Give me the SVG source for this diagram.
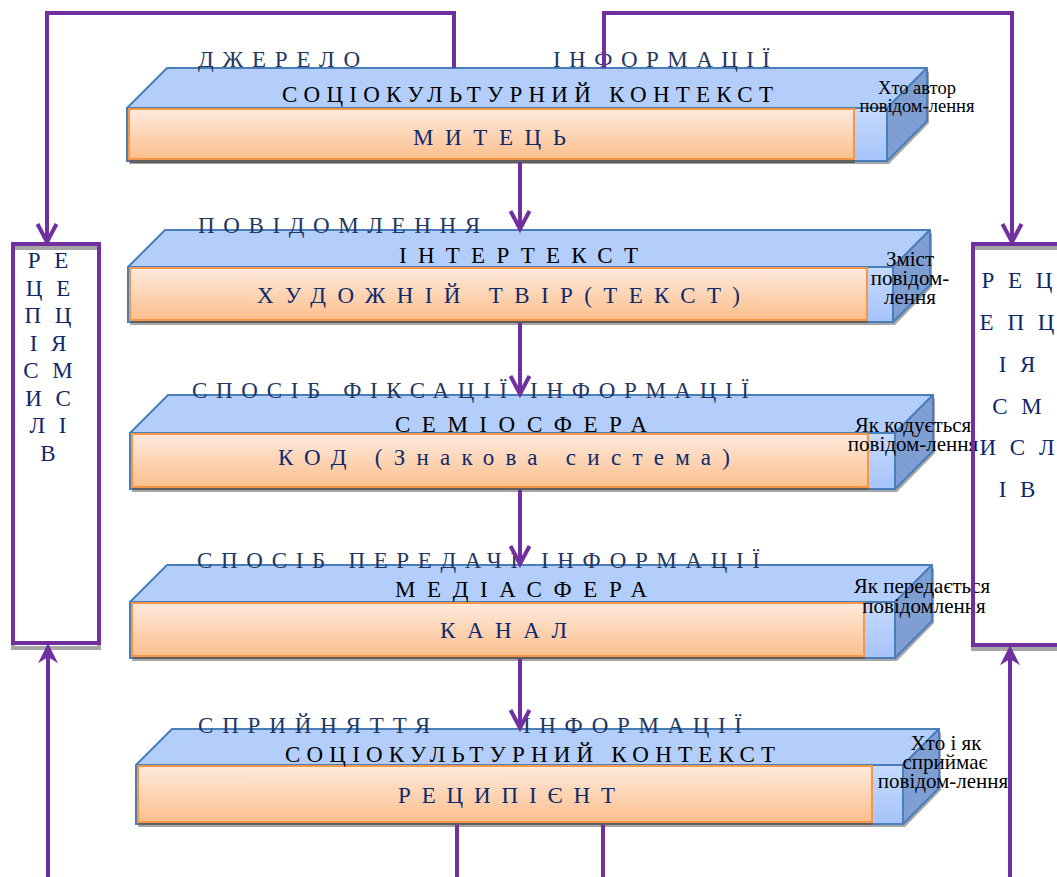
<svg xmlns="http://www.w3.org/2000/svg" width="1057" height="877" viewBox="0 0 1057 877" font-family="'Liberation Serif','Times New Roman',serif">
<style>
text{font-family:"Liberation Serif","Times New Roman",serif}
.hd{font-size:23px;fill:#1f3864}
.md{font-size:23px;fill:#000}
.lb{font-size:23px;fill:#0f2a6b}
.nt{font-size:21px;fill:#000;text-anchor:middle}
.nt1{font-size:18.5px}
.bx{font-size:23px;fill:#10286a;text-anchor:middle;word-spacing:8px}
.top{fill:#b3cefb;stroke:#4a7ebb;stroke-width:2;stroke-linejoin:round}
.front{fill:url(#gFront);stroke:#4a7ebb;stroke-width:2}
.side{fill:#7f9ed2;stroke:#4a7ebb;stroke-width:2;stroke-linejoin:round}
.shd{fill:#a6a6a6}
.oshd{fill:#5f5f5f}
.org{fill:url(#gOrg);stroke:#f79646;stroke-width:2}
.box{fill:none;stroke:#7030a0;stroke-width:4}
.boxs{fill:none;stroke:#a6a6a6;stroke-width:4}
.cn{fill:none;stroke:#7030a0;stroke-width:4}
</style>
<defs>
<linearGradient id="gFront" x1="0" y1="0" x2="0" y2="1"><stop offset="0" stop-color="#c6dafd"/><stop offset="1" stop-color="#a6c4fa"/></linearGradient>
<linearGradient id="gOrg" x1="0" y1="0" x2="0" y2="1"><stop offset="0" stop-color="#feeadd"/><stop offset="1" stop-color="#fcbf8d"/></linearGradient>
<marker id="vh" markerUnits="userSpaceOnUse" markerWidth="30" markerHeight="30" viewBox="-25 -15 30 30" refX="0" refY="0" orient="auto" overflow="visible"><path d="M-19,-9.5 L-1,0 L-19,9.5" fill="none" stroke="#7030a0" stroke-width="4"/></marker>
<marker id="sh" markerUnits="userSpaceOnUse" markerWidth="30" markerHeight="30" viewBox="-10 -10 24 20" refX="0" refY="0" orient="auto" overflow="visible"><path d="M11,0 L-5,-8 L0,0 L-5,8 Z" fill="#7030a0"/></marker>
</defs>

<g id="block1">
<path class="shd" d="M129,111 H889 L929,71 V123 L889,164 H129 Z"/>
<path class="top" d="M127,108 L167,68 H927 L887,108 Z"/>
<path class="side" d="M887,108 L927,68 V121 L887,161 Z"/>
<rect class="front" x="127" y="108" width="760" height="53"/>
<rect class="oshd" x="130" y="112" width="725" height="51"/>
<rect class="org" x="129" y="109" width="725" height="50"/>
<text class="hd" x="198" y="67" textLength="162" lengthAdjust="spacing">ДЖЕРЕЛО</text>
<text class="hd" x="553" y="67" textLength="217" lengthAdjust="spacing">ІНФОРМАЦІЇ</text>
<text class="md" x="282" y="102" textLength="491" lengthAdjust="spacing">СОЦІОКУЛЬТУРНИЙ КОНТЕКСТ</text>
<text class="lb" x="413" y="145" textLength="153" lengthAdjust="spacing">МИТЕЦЬ</text>
<text class="nt nt1" x="917" y="94">Хто автор</text>
<text class="nt nt1" x="917" y="112">повідом-лення</text>
</g>

<g id="block2">
<path class="shd" d="M130,270 H895 L932,233 V287 L895,325 H130 Z"/>
<path class="top" d="M128,267 L165,230 H930 L893,267 Z"/>
<path class="side" d="M893,267 L930,230 V285 L893,322 Z"/>
<rect class="front" x="128" y="267" width="765" height="55"/>
<rect class="oshd" x="131" y="271" width="737" height="52"/>
<rect class="org" x="130" y="268" width="737" height="52"/>
<text class="hd" x="198" y="233" textLength="282" lengthAdjust="spacing">ПОВІДОМЛЕННЯ</text>
<text class="md" x="399" y="263" textLength="239" lengthAdjust="spacing">ІНТЕРТЕКСТ</text>
<text class="lb" x="257" y="303" textLength="483" lengthAdjust="spacing">ХУДОЖНІЙ ТВІР(ТЕКСТ)</text>
<text class="nt" x="910" y="266">Зміст</text>
<text class="nt" x="910" y="285">повідом-</text>
<text class="nt" x="910" y="304">лення</text>
</g>

<g id="block3">
<path class="shd" d="M132,436 H897 L935,398 V453 L897,492 H132 Z"/>
<path class="top" d="M130,433 L168,395 H933 L895,433 Z"/>
<path class="side" d="M895,433 L933,395 V451 L895,489 Z"/>
<rect class="front" x="130" y="433" width="765" height="56"/>
<rect class="oshd" x="133" y="437" width="736" height="53"/>
<rect class="org" x="132" y="434" width="736" height="53"/>
<text class="hd" x="192" y="398" textLength="557" lengthAdjust="spacing">СПОСІБ ФІКСАЦІЇ ІНФОРМАЦІЇ</text>
<text class="md" x="395" y="432" textLength="252" lengthAdjust="spacing">СЕМІОСФЕРА</text>
<text class="lb" x="278" y="465" textLength="452" lengthAdjust="spacing">КОД (Знакова система)</text>
<text class="nt" x="913" y="432">Як кодується</text>
<text class="nt" x="913" y="451">повідом-лення</text>
</g>

<g id="block4">
<path class="shd" d="M132,605 H897 L934,568 V623 L897,661 H132 Z"/>
<path class="top" d="M130,602 L167,565 H932 L895,602 Z"/>
<path class="side" d="M895,602 L932,565 V621 L895,658 Z"/>
<rect class="front" x="130" y="602" width="765" height="56"/>
<rect class="oshd" x="133" y="606" width="732" height="53"/>
<rect class="org" x="132" y="603" width="732" height="53"/>
<text class="hd" x="197" y="568" textLength="563" lengthAdjust="spacing">СПОСІБ ПЕРЕДАЧІ ІНФОРМАЦІЇ</text>
<text class="md" x="395" y="597" textLength="252" lengthAdjust="spacing">МЕДІАСФЕРА</text>
<text class="lb" x="440" y="638" textLength="127" lengthAdjust="spacing">КАНАЛ</text>
<text class="nt" x="922" y="593">Як передається</text>
<text class="nt" x="924" y="613">повідомлення</text>
</g>

<g id="block5">
<path class="shd" d="M138,768 H905 L941,732 V790 L905,827 H138 Z"/>
<path class="top" d="M136,765 L172,729 H939 L903,765 Z"/>
<path class="side" d="M903,765 L939,729 V788 L903,824 Z"/>
<rect class="front" x="136" y="765" width="767" height="59"/>
<rect class="oshd" x="139" y="769" width="734" height="56"/>
<rect class="org" x="138" y="766" width="734" height="56"/>
<text class="hd" x="198" y="733" textLength="232" lengthAdjust="spacing">СПРИЙНЯТТЯ</text>
<text class="hd" x="523" y="733" textLength="219" lengthAdjust="spacing">ІНФОРМАЦІЇ</text>
<text class="md" x="285" y="762" textLength="490" lengthAdjust="spacing">СОЦІОКУЛЬТУРНИЙ КОНТЕКСТ</text>
<text class="lb" x="398" y="803" textLength="217" lengthAdjust="spacing">РЕЦИПІЄНТ</text>
<text class="nt" x="946" y="750">Хто і як</text>
<text class="nt" x="945" y="769">сприймає</text>
<text class="nt" x="943" y="788">повідом-лення</text>
</g>

<g id="left-box">
<rect class="boxs" x="13" y="248" width="86" height="400"/>
<rect class="box" x="13" y="244" width="86" height="399"/>
<text class="bx" x="48" y="268">Р Е</text>
<text class="bx" x="48" y="296">Ц Е</text>
<text class="bx" x="48" y="323">П Ц</text>
<text class="bx" x="48" y="351">І Я</text>
<text class="bx" x="48" y="378">С М</text>
<text class="bx" x="48" y="406">И С</text>
<text class="bx" x="48" y="433">Л І</text>
<text class="bx" x="48" y="461">В</text>
</g>

<g id="right-box">
<rect class="boxs" x="973" y="248" width="110" height="401"/>
<rect class="box" x="973" y="244" width="110" height="401"/>
<text class="bx" x="1017" y="288">Р Е Ц</text>
<text class="bx" x="1017" y="330">Е П Ц</text>
<text class="bx" x="1017" y="372">І Я</text>
<text class="bx" x="1017" y="414">С М</text>
<text class="bx" x="1017" y="455">И С Л</text>
<text class="bx" x="1017" y="497">І В</text>
</g>

<g id="connectors">
<path class="cn" d="M454,68 V13 H47 V243" marker-end="url(#vh)"/>
<path class="cn" d="M604,68 V13 H1012 V243" marker-end="url(#vh)"/>
<path class="cn" d="M520,162 V230" marker-end="url(#vh)"/>
<path class="cn" d="M520,323 V395" marker-end="url(#vh)"/>
<path class="cn" d="M520,490 V565" marker-end="url(#vh)"/>
<path class="cn" d="M520,659 V729" marker-end="url(#vh)"/>
<path class="cn" d="M457,825 V877"/>
<path class="cn" d="M603,825 V877"/>
<path class="cn" d="M48,877 V657" marker-end="url(#sh)"/>
<path class="cn" d="M1010,877 V659" marker-end="url(#sh)"/>
</g>
</svg>
